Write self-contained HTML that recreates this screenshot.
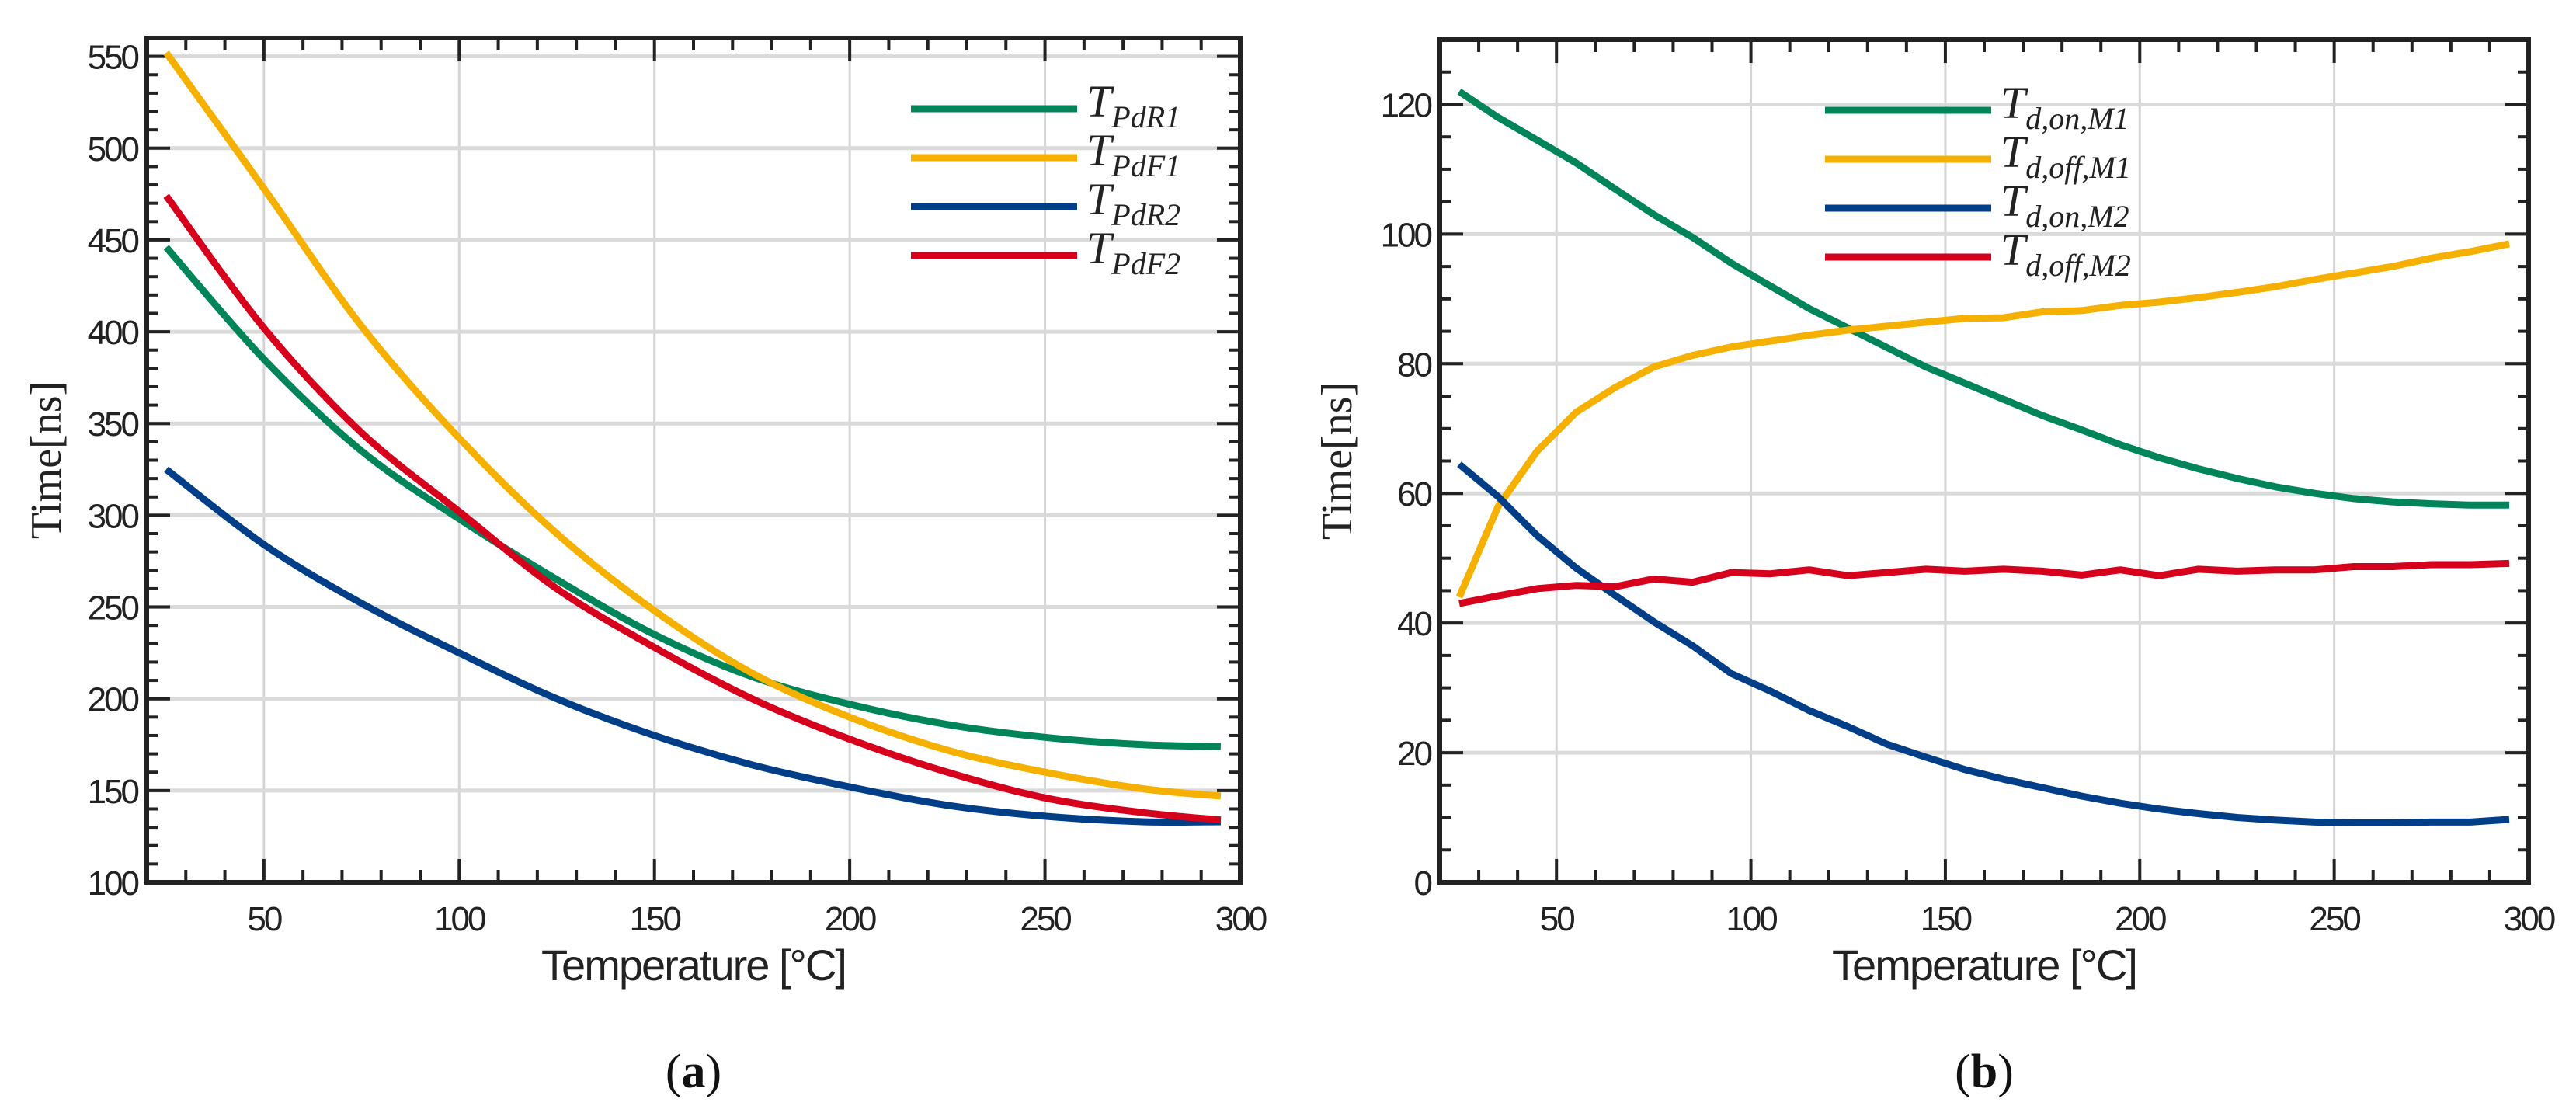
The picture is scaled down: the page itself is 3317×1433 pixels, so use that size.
<!DOCTYPE html>
<html><head><meta charset="utf-8"><style>
html,body{margin:0;padding:0;background:#fff;}
svg{display:block;}
.tick{font-family:"Liberation Sans",sans-serif;font-size:44px;fill:#222;letter-spacing:-3px;}
.xt{font-family:"Liberation Sans",sans-serif;font-size:56px;fill:#222;letter-spacing:-2px;}
.yt{font-family:"Liberation Serif",serif;font-size:56px;fill:#222;}
.leg{font-family:"Liberation Serif",serif;font-style:italic;font-size:58px;fill:#222;}
.cap{font-family:"Liberation Serif",serif;font-size:62px;fill:#111;}
</style></head><body>
<svg id="fig" width="3317" height="1433" viewBox="0 0 3317 1433" xmlns="http://www.w3.org/2000/svg"></svg>
<script>
// ---- data: panel (a)
const xA = [25,50,75,100,125,150,175,200,225,250,275,295];
const pdR1 = [446,385,335,298,265,235,212,197,186,179,175,174];
const pdF1 = [552,478,403,342,290,248,214,190,172,160,151,147];
const pdR2 = [325,284,252,225,200,180,164,152,142,136,133,133];
const pdF2 = [474,402,345,302,260,228,200,178,160,146,138,134];
const yTicksA = [100,150,200,250,300,350,400,450,500,550];
// ---- data: panel (b)
const xB = [25,35,45,55,65,75,85,95,105,115,125,135,145,155,165,175,185,195,205,215,225,235,245,255,265,275,285,295];
const onM1 = [122,118,114.5,111,107,103,99.5,95.5,92,88.5,85.5,82.5,79.5,77,74.5,72,69.8,67.5,65.5,63.8,62.3,61,60,59.2,58.7,58.4,58.2,58.2];
const offM1 = [44,58,66.5,72.5,76.3,79.5,81.3,82.6,83.5,84.4,85.2,85.8,86.4,87,87.1,88,88.2,89,89.5,90.2,91,91.9,93,94,95,96.3,97.3,98.5];
const onM2 = [64.5,59.5,53.5,48.5,44.3,40.2,36.5,32.2,29.5,26.5,24,21.3,19.3,17.4,15.9,14.6,13.3,12.2,11.3,10.6,10,9.6,9.3,9.2,9.2,9.3,9.3,9.7];
const offM2 = [43,44.2,45.3,45.8,45.6,46.8,46.3,47.8,47.6,48.2,47.3,47.8,48.3,48,48.3,48,47.4,48.2,47.3,48.3,48,48.2,48.2,48.7,48.7,49,49,49.2];
const yTicksB = [0,20,40,60,80,100,120];
const xTicks = [50,100,150,200,250,300];

const NS = "http://www.w3.org/2000/svg";
const svg = document.getElementById('fig');
function mk(tag, attrs, parent){const e=document.createElementNS(NS,tag);for(const k in attrs)e.setAttribute(k,attrs[k]);(parent||svg).appendChild(e);return e;}

const colors = {g:'#00855a', y:'#f6b100', b:'#003f88', r:'#d6001c'};

function pathFor(pts, smooth){
  if(!smooth){return pts.map((p,i)=>(i?'L':'M')+p[0].toFixed(1)+','+p[1].toFixed(1)).join('');}
  let d='M'+pts[0][0].toFixed(1)+','+pts[0][1].toFixed(1);
  for(let i=0;i<pts.length-1;i++){
    const p0=pts[i-1]||pts[i], p1=pts[i], p2=pts[i+1], p3=pts[i+2]||pts[i+1];
    const c1=[p1[0]+(p2[0]-p0[0])/6, p1[1]+(p2[1]-p0[1])/6];
    const c2=[p2[0]-(p3[0]-p1[0])/6, p2[1]-(p3[1]-p1[1])/6];
    d+='C'+c1[0].toFixed(1)+','+c1[1].toFixed(1)+' '+c2[0].toFixed(1)+','+c2[1].toFixed(1)+' '+p2[0].toFixed(1)+','+p2[1].toFixed(1);
  }
  return d;
}

function panel(cfg){
  const g = mk('g',{});
  
  
  const X = v => cfg.L + (v-20)/(280)*(cfg.R-cfg.L);
  const Y = v => cfg.B - (v-cfg.y0)/(cfg.y1-cfg.y0)*(cfg.B-cfg.T);
  xTicks.forEach(t=>{ if(t<300){const l=mk('line',{x1:X(t),x2:X(t),y1:cfg.T,y2:cfg.B,stroke:'#d4d4d4','stroke-width':3},g);
    }});
  cfg.yTicks.forEach(t=>{const l=mk('line',{x1:cfg.L,x2:cfg.R,y1:Y(t),y2:Y(t),stroke:'#dadada','stroke-width':5},g);
    });
  for(let v=20; v<=300; v+=10){
    const len = (v%50===0)?30:16;
    mk('line',{x1:X(v),x2:X(v),y1:cfg.B,y2:cfg.B-len,stroke:'#222','stroke-width':4},g);
    mk('line',{x1:X(v),x2:X(v),y1:cfg.T,y2:cfg.T+len,stroke:'#222','stroke-width':4},g);
  }
  for(let v=cfg.y0; v<=cfg.y1+0.001; v+=cfg.minor){
    const len = (Math.abs(v%cfg.major)<0.01)?30:14;
    mk('line',{x1:cfg.L,x2:cfg.L+len,y1:Y(v),y2:Y(v),stroke:'#222','stroke-width':4},g);
    mk('line',{x1:cfg.R,x2:cfg.R-len,y1:Y(v),y2:Y(v),stroke:'#222','stroke-width':4},g);
  }
  cfg.series.forEach(s=>{
    const pts = s.v.map((v,i)=>[X(cfg.x[i]),Y(v)]);
    const p = mk('path',{d:pathFor(pts,cfg.smooth),fill:'none',stroke:s.c,'stroke-width':9,'stroke-linejoin':'round'},g);
    
    
  });
  const fr = mk('rect',{x:cfg.L,y:cfg.T,width:cfg.R-cfg.L,height:cfg.B-cfg.T,fill:'none',stroke:'#222','stroke-width':6},g);
  
  xTicks.forEach(t=>{const e=mk('text',{x:X(t),y:cfg.B+62,'text-anchor':'middle',class:'tick'},g);e.textContent=t;
    });
  cfg.yTicks.forEach(t=>{const e=mk('text',{x:cfg.L-12,y:Y(t)+16,'text-anchor':'end',class:'tick'},g);e.textContent=t;
    });
  const xt=mk('text',{x:(cfg.L+cfg.R)/2,y:1262,'text-anchor':'middle',class:'xt'},g);xt.textContent='Temperature [°C]';
  
  const yt=mk('text',{x:0,y:0,'text-anchor':'middle',class:'yt',transform:`translate(${cfg.ytx},${(cfg.T+cfg.B)/2}) rotate(-90)`},g);yt.textContent='Time[ns]';
  
  const cp=mk('text',{x:(cfg.L+cfg.R)/2,y:1400,'text-anchor':'middle',class:'cap'},g);
  cp.innerHTML='(<tspan font-weight="bold">'+cfg.cap+'</tspan>)';
  
  cfg.series.forEach((s,i)=>{
    const y = cfg.legY + i*63;
    const l=mk('line',{x1:cfg.legX,x2:cfg.legX+cfg.legW,y1:y,y2:y,stroke:s.c,'stroke-width':9},g);
    
    const t=mk('text',{x:cfg.legX+cfg.legW+12,y:y+10,class:'leg'},g);
    t.innerHTML='T<tspan font-size="40" dy="14">'+s.sub+'</tspan>';
    
  });
}

panel({name:'chart-a',L:189,R:1597,T:49,B:1136,y0:100,y1:560,minor:10,major:50,yTicks:yTicksA,x:xA,ytx:78,cap:'a',smooth:true,
  legX:1173,legW:214,legY:140,
  series:[{v:pdR1,c:colors.g,name:'line-pdr1',sub:'PdR1'},{v:pdF1,c:colors.y,name:'line-pdf1',sub:'PdF1'},
          {v:pdR2,c:colors.b,name:'line-pdr2',sub:'PdR2'},{v:pdF2,c:colors.r,name:'line-pdf2',sub:'PdF2'}]});
panel({name:'chart-b',L:1854,R:3256,T:51,B:1136,y0:0,y1:130,minor:5,major:20,yTicks:yTicksB,x:xB,ytx:1740,cap:'b',smooth:false,
  legX:2350,legW:214,legY:142,
  series:[{v:onM1,c:colors.g,name:'line-td-on-m1',sub:'d,on,M1'},{v:offM1,c:colors.y,name:'line-td-off-m1',sub:'d,off,M1'},
          {v:onM2,c:colors.b,name:'line-td-on-m2',sub:'d,on,M2'},{v:offM2,c:colors.r,name:'line-td-off-m2',sub:'d,off,M2'}]});
</script>
</body></html>
